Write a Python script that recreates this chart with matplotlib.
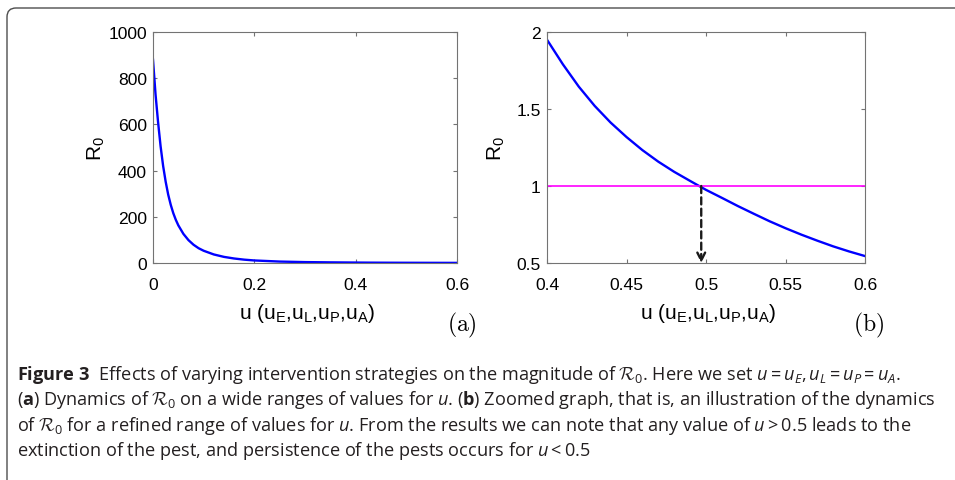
import matplotlib
matplotlib.use("Agg")
import matplotlib.pyplot as plt
from matplotlib.patches import FancyBboxPatch
from matplotlib.transforms import IdentityTransform

# R0 against the common control level u = u_E = u_L = u_P = u_A
u = [0.0, 0.005, 0.01, 0.015, 0.02, 0.025, 0.03, 0.035, 0.04, 0.045, 0.05,
     0.06, 0.07, 0.08, 0.09, 0.10, 0.12, 0.14, 0.16, 0.18, 0.20,
     0.25, 0.30, 0.35, 0.40, 0.41, 0.42, 0.43, 0.44, 0.45, 0.46, 0.47,
     0.48, 0.49, 0.50, 0.51, 0.52, 0.53, 0.54, 0.55, 0.56, 0.57, 0.58,
     0.59, 0.60]
r0 = [880, 730, 610, 505, 420, 352, 296, 252, 216, 187, 163,
      126, 99, 79, 64, 53, 37, 26.5, 19.5, 14.5, 11.0,
      6.2, 3.9, 2.75, 1.95, 1.79, 1.645, 1.52, 1.412, 1.318, 1.233, 1.158,
      1.092, 1.033, 0.975, 0.923, 0.87, 0.82, 0.771, 0.726, 0.684, 0.645, 0.608,
      0.575, 0.545]

threshold = 1.0
u_cross = 0.497

xticks_a = [0, 0.2, 0.4, 0.6]
xticklabels_a = ["0", "0.2", "0.4", "0.6"]
yticks_a = [0, 200, 400, 600, 800, 1000]
yticklabels_a = ["0", "200", "400", "600", "800", "1000"]
xticks_b = [0.4, 0.45, 0.5, 0.55, 0.6]
xticklabels_b = ["0.4", "0.45", "0.5", "0.55", "0.6"]
yticks_b = [0.5, 1, 1.5, 2]
yticklabels_b = ["0.5", "1", "1.5", "2"]

caption = [
    r"$\mathbf{Figure\ 3}$  Effects of varying intervention strategies on the magnitude of $\mathcal{R}_0$. "
    r"Here we set $u = u_E, u_L = u_P = u_A$.",
    r"($\mathbf{a}$) Dynamics of $\mathcal{R}_0$ on a wide ranges of values for $u$. ($\mathbf{b}$) Zoomed graph, "
    r"that is, an illustration of the dynamics",
    r"of $\mathcal{R}_0$ for a refined range of values for $u$. From the results we can note that any value of "
    r"$u > 0.5$ leads to the",
    r"extinction of the pest, and persistence of the pests occurs for $u < 0.5$",
]

cap_font = "Open Sans"
plt.rcParams["mathtext.fontset"] = "custom"
plt.rcParams["mathtext.rm"] = cap_font
plt.rcParams["mathtext.it"] = cap_font + ":italic"
plt.rcParams["mathtext.bf"] = cap_font + ":bold"
plt.rcParams["mathtext.cal"] = "cmsy10"

fig = plt.figure(figsize=(9.55, 4.81), dpi=100)
W, H = 955, 481


def axes_box(left, right, top, bottom):
    return [left / W, 1 - bottom / H, (right - left) / W, (bottom - top) / H]


def style(ax):
    ax.tick_params(direction="in", length=3, width=0.8, top=True, right=True,
                   labelsize=12.6, colors="0.45", labelcolor="black")
    ax.tick_params(axis="x", pad=10)
    ax.tick_params(axis="y", pad=4.5)
    for s in ax.spines.values():
        s.set_color("0.45")
        s.set_linewidth(0.8)
    for lab in ax.get_xticklabels() + ax.get_yticklabels():
        lab.set_family("Liberation Sans")


ax1 = fig.add_axes(axes_box(153, 457, 33, 264))
ax1.plot(u, r0, color="blue", lw=1.7)
ax1.set_xlim(0, 0.6)
ax1.set_ylim(0, 1000)
ax1.set_xticks(xticks_a, xticklabels_a)
ax1.set_yticks(yticks_a, yticklabels_a)
style(ax1)

ax2 = fig.add_axes(axes_box(547, 865, 33, 264))
ax2.plot(u, r0, color="blue", lw=1.7)
ax2.axhline(threshold, color="magenta", lw=1.2)
ax2.annotate("", xy=(u_cross, 0.5), xytext=(u_cross, threshold),
             arrowprops=dict(arrowstyle="->", color="0.1", lw=1.7,
                             linestyle=(0, (3, 1.8)), mutation_scale=14,
                             shrinkA=0, shrinkB=0))
ax2.set_xlim(0.4, 0.6)
ax2.set_ylim(0.5, 2)
ax2.set_xticks(xticks_b, xticklabels_b)
ax2.set_yticks(yticks_b, yticklabels_b)
style(ax2)

for ax, xl, yl in [(ax1, 0.507, -0.151), (ax2, 0.506, -0.126)]:
    ax.set_xlabel(r"u (u$_\mathregular{E}$,u$_\mathregular{L}$,u$_\mathregular{P}$,u$_\mathregular{A}$)",
                  family="Liberation Sans", fontsize=15)
    ax.set_ylabel(r"R$_\mathregular{0}$", family="Liberation Sans", fontsize=15)
    ax.xaxis.set_label_coords(xl, -0.165)
    ax.yaxis.set_label_coords(yl, 0.5)

fig.text(462 / W, 1 - 325 / H, r"$\mathrm{(a)}$", math_fontfamily="cm",
         fontsize=17, ha="center", va="center")
fig.text(869 / W, 1 - 325 / H, r"$\mathrm{(b)}$", math_fontfamily="cm",
         fontsize=17, ha="center", va="center")

# frame around figure and caption
frame = FancyBboxPatch((7, -40), 1000, H - 9 + 40,
                       boxstyle="round,pad=0,rounding_size=9",
                       transform=IdentityTransform(), fill=False,
                       edgecolor="0.3", lw=1.0)
fig.patches.append(frame)

for i, line in enumerate(caption):
    fig.text(17 / W, 1 - (380 + 25.5 * i) / H, line, family=cap_font,
             fontsize=13.1, color="#231f20", va="baseline")

fig.savefig("out.png", dpi=100)
